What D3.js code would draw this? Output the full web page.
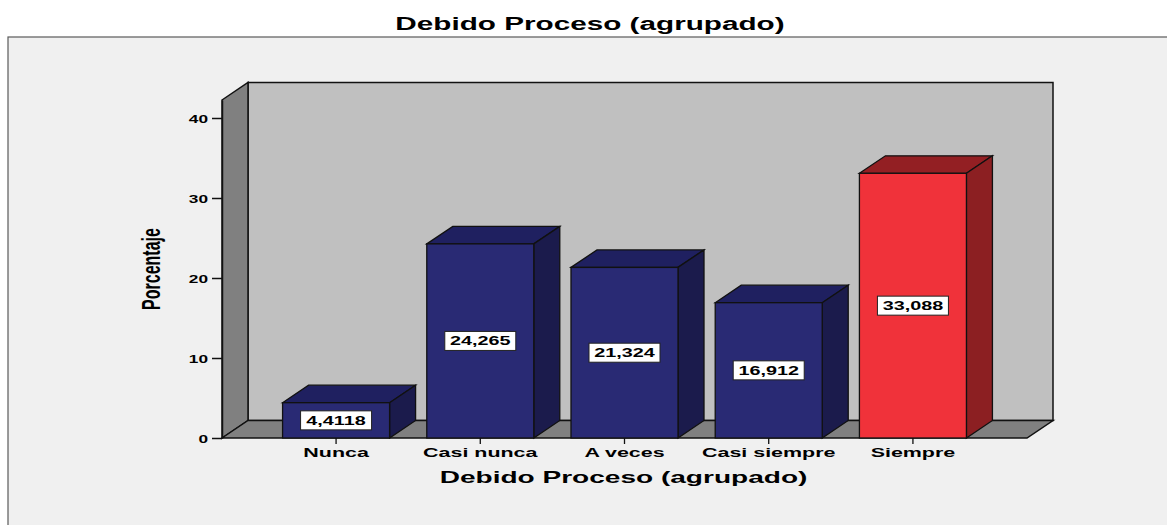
<!DOCTYPE html>
<html>
<head>
<meta charset="utf-8">
<script src="https://cdn.jsdelivr.net/npm/d3@7"></script>
<style>
  html, body { margin: 0; padding: 0; background: #ffffff; }
  svg { display: block; }
  text { font-family: "Liberation Sans", Arial, sans-serif; font-weight: bold; fill: #000; }
</style>
</head>
<body>
<svg id="chart" width="1167" height="525"></svg>
<script>
// ---- data ----
const categories = ["Nunca", "Casi nunca", "A veces", "Casi siempre", "Siempre"];
const percentages = [4.4118, 24.265, 21.324, 16.912, 33.088];
const yTickValues = [0, 10, 20, 30, 40];
const chartTitle = "Debido Proceso (agrupado)";
const xAxisTitle = "Debido Proceso (agrupado)";
const yAxisTitle = "Porcentaje";
const highlightCategory = "Siempre";

// ---- style / layout ----
const W = 1167, H = 525;
const K = 1.65;                 // horizontal stretch of the original picture
const plotLeft = 222, plotRight = 1027, plotBottom = 438, plotTop = 100;
const yMax = 42.25;
const DX = 26, DY = 17.5;       // 3D depth offset
const blue = { front: "#292a74", top: "#1f2060", side: "#1b1b4c" };
const red  = { front: "#f0323a", top: "#931f23", side: "#8c1f22" };

const svg = d3.select("#chart");
const fmt = d3.formatLocale({ decimal: ",", thousands: ".", grouping: [3], currency: ["", ""] }).format(".5g");

// frame
svg.append("rect").attr("x", 8).attr("y", 37).attr("width", 1200).attr("height", 600)
  .attr("fill", "#f0f0f0").attr("stroke", "#5a5a5a").attr("stroke-width", 1.2);

// scales
const x = d3.scaleBand().domain(categories).range([plotLeft, plotRight])
  .paddingInner(0.258).paddingOuter(0.42);
const y = d3.scaleLinear().domain([0, yMax]).range([plotBottom, plotTop]);

const poly = pts => pts.map(p => p.join(",")).join(" ");
const y0 = y(0), yT = y(yMax);

// back wall
svg.append("polygon")
  .attr("points", poly([[plotLeft + DX, yT - DY], [plotRight + DX, yT - DY], [plotRight + DX, y0 - DY], [plotLeft + DX, y0 - DY]]))
  .attr("fill", "#c0c0c0").attr("stroke", "#111").attr("stroke-width", 1.5);
// left wall
svg.append("polygon")
  .attr("points", poly([[plotLeft, yT], [plotLeft + DX, yT - DY], [plotLeft + DX, y0 - DY], [plotLeft, y0]]))
  .attr("fill", "#808080").attr("stroke", "#111").attr("stroke-width", 1.5);
// floor
svg.append("polygon")
  .attr("points", poly([[plotLeft, y0], [plotLeft + DX, y0 - DY], [plotRight + DX, y0 - DY], [plotRight, y0]]))
  .attr("fill", "#808080").attr("stroke", "#111").attr("stroke-width", 1.5);

// bars
const data = categories.map((c, i) => ({ cat: c, val: percentages[i] }));
const bars = svg.append("g").selectAll("g").data(data).join("g");
bars.each(function (d) {
  const g = d3.select(this);
  const col = d.cat === highlightCategory ? red : blue;
  const x0 = x(d.cat), x1 = x0 + x.bandwidth(), yv = y(d.val);
  g.append("polygon").attr("points", poly([[x0, yv], [x0 + DX, yv - DY], [x1 + DX, yv - DY], [x1, yv]]))
    .attr("fill", col.top).attr("stroke", "#111").attr("stroke-width", 1.3);
  g.append("polygon").attr("points", poly([[x1, yv], [x1 + DX, yv - DY], [x1 + DX, y0 - DY], [x1, y0]]))
    .attr("fill", col.side).attr("stroke", "#111").attr("stroke-width", 1.3);
  g.append("rect").attr("x", x0).attr("y", yv).attr("width", x.bandwidth()).attr("height", y0 - yv)
    .attr("fill", col.front).attr("stroke", "#111").attr("stroke-width", 1.3);
  const cx = x0 + x.bandwidth() / 2, cy = (yv + y0) / 2;
  g.append("rect").attr("x", cx - 35.5).attr("y", cy - 9.5).attr("width", 71).attr("height", 19)
    .attr("fill", "#ffffff").attr("stroke", "#222").attr("stroke-width", 1);
  g.append("text").attr("text-anchor", "middle").attr("font-size", 12)
    .attr("transform", `translate(${cx},${cy + 4.3}) scale(${K},1)`)
    .text(fmt(d.val));
});

// y axis
const yAxis = svg.append("g").attr("transform", `translate(${plotLeft},0)`)
  .call(d3.axisLeft(y).tickValues(yTickValues).tickSize(10).tickSizeOuter(0).tickFormat(d3.format("d")));
yAxis.select(".domain").attr("stroke", "#111").attr("stroke-width", 1.5);
yAxis.selectAll(".tick line").attr("stroke", "#111").attr("stroke-width", 1.5);
yAxis.selectAll(".tick text").attr("x", null).attr("dy", null)
  .attr("font-size", 11.5).attr("font-family", null).attr("fill", "#000")
  .attr("text-anchor", "end")
  .attr("transform", `translate(-14,4.3) scale(1.5,1)`);

// x axis
const xAxis = svg.append("g").attr("transform", `translate(0,${y0})`)
  .call(d3.axisBottom(x).tickSize(6).tickSizeOuter(0));
xAxis.select(".domain").remove();
xAxis.selectAll(".tick line").attr("stroke", "#111").attr("stroke-width", 1.3);
xAxis.selectAll(".tick text").attr("y", null).attr("dy", null)
  .attr("font-size", 13).attr("font-family", null).attr("fill", "#000")
  .attr("transform", `translate(0,19) scale(${K},1)`);

// titles
svg.append("text").attr("text-anchor", "middle").attr("font-size", 18)
  .attr("transform", `translate(590,30) scale(${K},1)`).text(chartTitle);
svg.append("text").attr("text-anchor", "middle").attr("font-size", 17)
  .attr("transform", `translate(${(plotLeft + plotRight) / 2 - 1},483) scale(${K},1)`).text(xAxisTitle);
svg.append("text").attr("text-anchor", "middle").attr("font-size", 16)
  .attr("transform", `translate(160,269) scale(${K},1) rotate(-90)`).text(yAxisTitle);
</script>
</body>
</html>
